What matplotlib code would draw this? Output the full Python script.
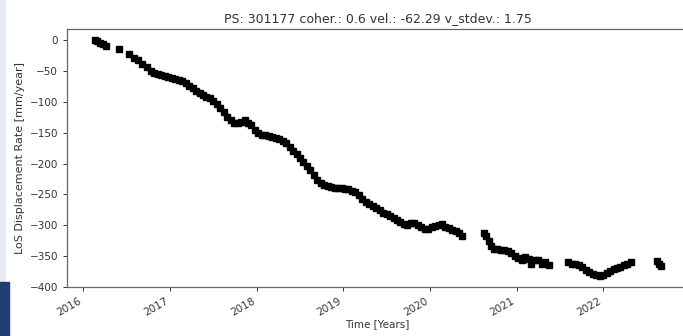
import numpy as np
import matplotlib
matplotlib.use('Agg')
import matplotlib.pyplot as plt
from matplotlib.patches import Rectangle

# 时间（十进制年）与视线向位移
years_a = [2016.13, 2016.16, 2016.19, 2016.22, 2016.26, 2016.41, 2016.53, 2016.58,
           2016.63, 2016.68, 2016.73, 2016.78]
disp_a = [0, -2, -4, -7, -10, -15, -23, -29, -33, -38, -43, -50]

years_b = [2016.82, 2016.86, 2016.90, 2016.94, 2016.98, 2017.02, 2017.06, 2017.10,
           2017.14, 2017.18, 2017.22, 2017.26, 2017.30, 2017.34, 2017.38, 2017.42,
           2017.46, 2017.50, 2017.54, 2017.58, 2017.62, 2017.66, 2017.70, 2017.74,
           2017.78, 2017.82, 2017.86, 2017.90, 2017.94, 2017.98, 2018.02, 2018.06,
           2018.10, 2018.14, 2018.18, 2018.22, 2018.26, 2018.30, 2018.34, 2018.38,
           2018.42, 2018.46, 2018.50, 2018.54, 2018.58, 2018.62, 2018.66, 2018.70,
           2018.74, 2018.78, 2018.82, 2018.86, 2018.90, 2018.94, 2018.98, 2019.02,
           2019.06, 2019.10, 2019.14, 2019.18, 2019.22, 2019.26, 2019.30, 2019.34,
           2019.38, 2019.42, 2019.46, 2019.50, 2019.54, 2019.58, 2019.62, 2019.66,
           2019.70, 2019.74, 2019.78, 2019.82, 2019.86, 2019.90, 2019.94, 2019.98,
           2020.02, 2020.06, 2020.10, 2020.14, 2020.18, 2020.22, 2020.26, 2020.30,
           2020.34, 2020.37]
disp_b = [-53, -55, -57, -58, -60, -62, -63, -65,
          -67, -70, -74, -78, -82, -86, -89, -92,
          -94, -98, -103, -110, -117, -124, -130, -134,
          -134, -132, -130, -134, -138, -145, -150, -153,
          -154, -156, -157, -159, -161, -163, -167, -173,
          -179, -185, -191, -197, -204, -211, -219, -226,
          -231, -235, -237, -238, -239, -240, -240, -241,
          -242, -244, -246, -251, -257, -262, -265, -268,
          -272, -276, -280, -282, -285, -289, -292, -295,
          -298, -299, -297, -297, -300, -302, -306, -306,
          -303, -301, -299, -298, -302, -305, -307, -309,
          -313, -317]

years_c = [2020.62, 2020.65, 2020.68, 2020.71, 2020.74, 2020.78, 2020.82, 2020.86,
           2020.90, 2020.94, 2020.98, 2021.02, 2021.06, 2021.10, 2021.14, 2021.17,
           2021.21, 2021.25, 2021.29, 2021.33, 2021.37]
disp_c = [-312, -318, -326, -333, -338, -339, -340, -340,
          -342, -345, -349, -353, -357, -352, -355, -362,
          -357, -356, -363, -359, -364]

years_d = [2021.60, 2021.64, 2021.68, 2021.72, 2021.76, 2021.80, 2021.84, 2021.88,
           2021.92, 2021.96, 2022.00, 2022.04, 2022.08, 2022.12, 2022.16, 2022.20,
           2022.24, 2022.28, 2022.32, 2022.62, 2022.65, 2022.67]
disp_d = [-360, -362, -363, -365, -368, -372, -376, -379,
          -381, -382, -381, -378, -374, -371, -369, -367,
          -364, -362, -360, -358, -363, -366]

year_ticks = [2016, 2017, 2018, 2019, 2020, 2021, 2022]

title = 'PS: 301177 coher.: 0.6 vel.: -62.29 v_stdev.: 1.75'

years = years_a + years_b + years_c + years_d
disp = disp_a + disp_b + disp_c + disp_d

W, H = 683, 336
fig = plt.figure(figsize=(W / 100, H / 100), dpi=100)
# 坐标轴右侧超出图片（原图被裁剪）
ax = fig.add_axes([67 / W, 49 / H, (688 - 67) / W, (287 - 29) / H])

ax.plot(years, disp, 's', color='black', markersize=5, linestyle='none')

ax.set_xticks(year_ticks)
ax.set_xticklabels([str(y) for y in year_ticks])
ax.set_xlim(2015.81, 2022.98)
ax.set_ylim(-400, 18)
ax.set_yticks([0, -50, -100, -150, -200, -250, -300, -350, -400])

for lab in ax.get_xticklabels():
    lab.set_rotation(30)
    lab.set_ha('right')
ax.tick_params(labelsize=7.5, colors='#333333', width=0.7, length=3)
for sp in ax.spines.values():
    sp.set_color('#666666')
    sp.set_linewidth(0.9)

ax.set_title(title, fontsize=9, color='#333333', pad=5)
ax.set_xlabel('Time [Years]', fontsize=7.5, color='#333333', labelpad=1)
ax.set_ylabel('LoS Displacement Rate [mm/year]', fontsize=8, color='#333333', labelpad=3)

# 左侧幻灯片边条
fig.add_artist(Rectangle((0, 0), 5 / W, 1, transform=fig.transFigure,
                         color='#e6ebf2', zorder=0))
fig.add_artist(Rectangle((0, 0), 9 / W, 54 / H, transform=fig.transFigure,
                         color='#1f3f73', zorder=1))

fig.savefig('out.png', dpi=100)
